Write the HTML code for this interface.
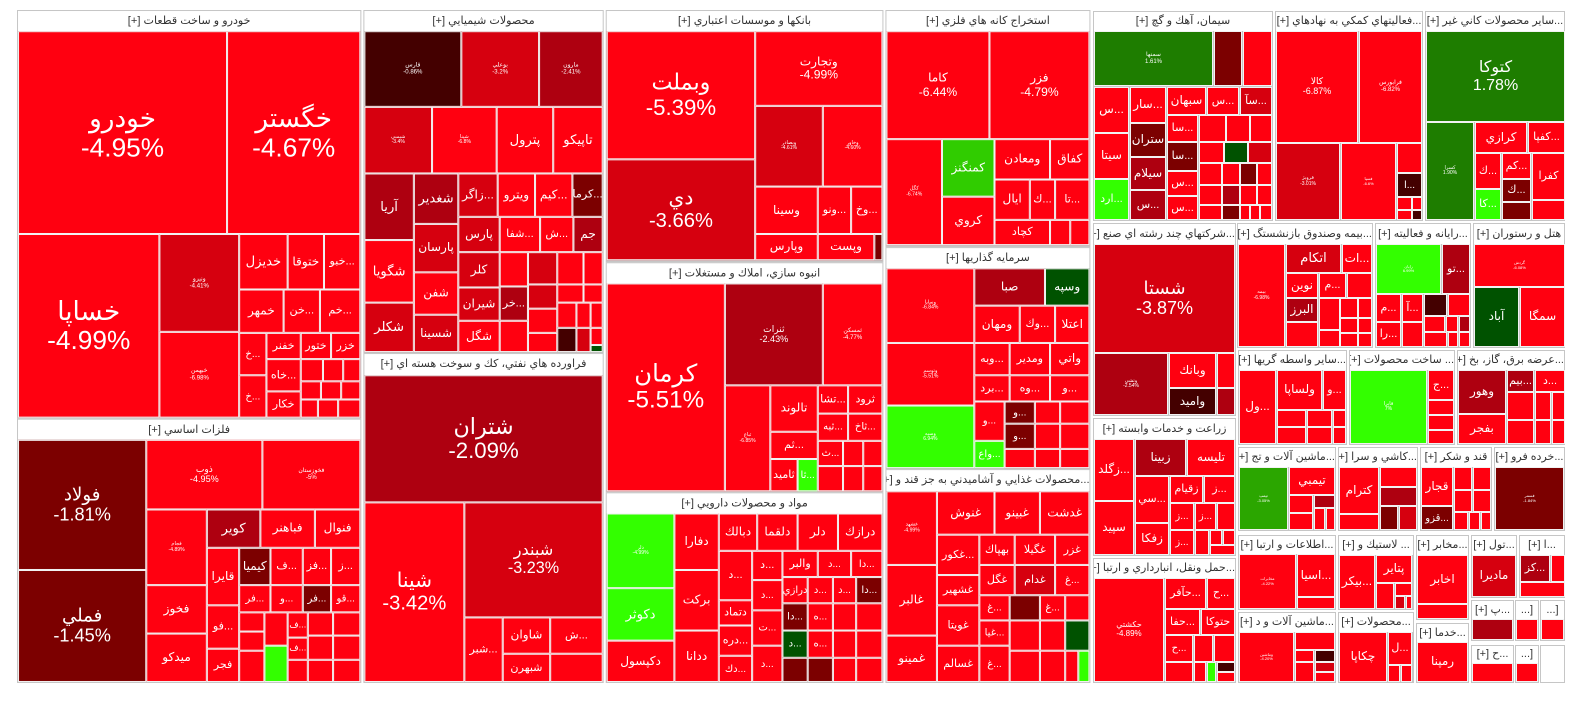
<!DOCTYPE html>
<html><head><meta charset="utf-8">
<style>
html,body{margin:0;padding:0;background:#fff;width:1584px;height:698px;overflow:hidden;font-family:"Liberation Sans","DejaVu Sans",sans-serif}
#main{position:absolute;left:0;top:0;width:1584px;height:698px;transform-origin:16px 10px;transform:scale(1.0098,1.009)}
#right{position:absolute;left:0;top:0;width:1584px;height:698px}
.sec{position:absolute;background:#c6c6c6}
.hdr{position:absolute;background:#fff;color:#333;font-size:11px;line-height:19px;text-align:center;white-space:nowrap;overflow:hidden;direction:rtl}
.cell{position:absolute;box-sizing:border-box;border:1px solid #f2f2f2;color:#fff;display:flex;flex-direction:column;align-items:center;justify-content:center;overflow:hidden;text-align:center;line-height:1.1}
.cell .n{direction:rtl;white-space:nowrap}
.cell .p{direction:ltr;white-space:nowrap}
</style></head><body>
<div id="main"></div>
<div id="right"></div>
<script>
const COLORS={R:'#ff0010',M:'#d6000f',D:'#ae0010',K:'#7c0000',X:'#440000',G:'#1e7d00',L:'#33ff00',N:'#005200',T:'#2ba600',C:'#30cc00'};
const leftSectors=[
{t:'خودرو و ساخت قطعات [+]',b:[17,10,358,415],c:[
[18,31,225,232,'R','خودرو','-4.95%',26],[225,31,357,232,'R','خگستر','-4.67%',26],[18,232,158,414,'R','خساپا','-4.99%',26],
[158,232,237,329,'M','ونيرو','-4.41%',6],[158,329,237,414,'R','خبهمن','-6.98%',6],
[237,232,285,287,'R','خديزل','',13],[285,232,321,287,'R','ختوقا','',12],[321,232,357,287,'R','...خبو','',11],
[237,287,281,330,'R','خمهر','',12],[281,287,317,330,'R','...خن','',11],[317,287,357,330,'R','...خم','',11],
[237,330,264,372,'R','...خ','',10],[237,372,264,414,'R','...خ','',10],[264,330,298,356,'R','خفنر','',11],[298,330,328,356,'R','ختور','',11],[328,330,357,356,'R','خزر','',11],
[264,356,298,388,'R','...خاه','',11],[264,388,298,414,'R','خكار','',11],
[298,356,320,378,'R'],[320,356,340,378,'R'],[340,356,357,378,'R'],[298,378,318,396,'R'],[318,378,338,396,'R'],[338,378,357,396,'R'],[298,396,315,414,'R'],[315,396,335,414,'R'],[335,396,357,414,'R']]},
{t:'فلزات اساسي [+]',b:[17,415,358,677],c:[
[18,436,145,565,'K','فولاد','-1.81%',18],[18,565,145,676,'K','فملي','-1.45%',18],[145,436,260,505,'R','ذوب','-4.95%',9],[260,436,357,505,'R','فخوزستان','-5%',6],
[145,505,205,580,'R','فجام','-4.89%',5],[205,505,258,543,'D','كوير','',13],[258,505,312,543,'R','فباهنر','',12],[312,505,357,543,'R','فنوال','',12],
[145,580,205,628,'R','فخوز','',12],[145,628,205,676,'R','ميدكو','',12],[205,543,237,600,'R','قايرا','',12],[237,543,268,580,'K','كيميا','',12],
[268,543,300,580,'R','...ف','',11],[300,543,328,580,'R','...فز','',11],[328,543,357,580,'R','...ز','',11],[205,600,237,643,'R','...فو','',11],[205,643,237,676,'R','فجر','',11],
[237,580,268,607,'R','...فر','',10],[268,580,300,607,'R','...و','',10],[300,580,328,607,'K','...فر','',10],[328,580,357,607,'R','...قو','',10],
[237,607,262,626,'R'],[237,626,262,645,'R'],[237,645,262,676,'R'],[262,607,285,640,'R'],[262,640,285,676,'L'],
[285,607,305,632,'R','...ف','',9],[285,632,305,654,'R','...ف','',9],[285,654,305,676,'R'],
[305,607,330,630,'R'],[330,607,357,630,'R'],[305,630,330,654,'R'],[330,630,357,654,'R'],[305,654,330,676,'R'],[330,654,357,676,'R']]},
{t:'محصولات شيميايي [+]',b:[360,10,598,350],c:[
[361,31,457,106,'X','فارس','-0.86%',6],[457,31,534,106,'M','بوعلي','-3.2%',6],[534,31,597,106,'D','مارون','-2.41%',6],
[361,106,428,172,'M','شيمبي','-3.4%',5],[428,106,492,172,'R','شپنا','-6.8%',5],[492,106,548,172,'R','پترول','',13],[548,106,597,172,'R','تاپيكو','',13],
[361,172,410,238,'D','آريا','',13],[361,238,410,300,'R','شگويا','',13],[361,300,410,349,'M','شكلر','',13],
[410,172,454,222,'D','شغدير','',13],[410,222,454,270,'M','پارسان','',12],[410,270,454,312,'R','شفن','',12],[410,312,454,349,'M','شسينا','',12],
[454,172,493,215,'M','...زاگر','',12],[493,172,530,215,'R','ويترو','',12],[530,172,567,215,'R','...كيم','',12],[567,172,597,215,'K','...كرما','',11],
[454,215,495,250,'M','پارس','',12],[495,215,535,250,'R','...شفا','',11],[535,215,568,250,'R','...ش','',11],[568,215,597,250,'D','جم','',12],
[454,250,495,285,'M','كلر','',12],[454,285,495,318,'M','شيران','',12],[454,318,495,349,'R','شگل','',12],
[495,250,523,284,'R'],[495,284,523,318,'D','...خر','',11],[495,318,523,349,'R'],
[523,250,552,282,'M'],[523,282,552,306,'M'],[523,306,552,330,'R'],[523,330,552,349,'R'],
[552,250,578,282,'R'],[578,250,597,282,'R'],[552,282,578,300,'R'],[578,282,597,300,'R'],
[552,300,571,325,'R'],[571,300,585,325,'R'],[585,300,597,325,'R'],[552,325,571,349,'X'],[571,325,585,349,'M'],[585,325,597,342,'R'],[585,342,597,349,'N']]},
{t:'فراورده هاي نفتي، كك و سوخت هسته اي [+]',b:[360,350,598,677],c:[
[361,372,597,498,'D','شتران','-2.09%',22],[361,498,460,676,'R','شينا','-3.42%',20],[460,498,597,612,'M','شبندر','-3.23%',16],
[460,612,498,676,'R','...شبر','',11],[498,612,545,648,'R','شاوان','',12],[545,612,597,648,'R','...ش','',11],[498,648,545,676,'R','شبهرن','',11],[545,648,597,676,'R']]},
{t:'بانكها و موسسات اعتباري [+]',b:[600,10,875,260],c:[
[601,31,748,158,'R','وبملت','-5.39%',22],[748,31,874,105,'R','وتجارت','-4.99%',12],[601,158,748,258,'M','دي','-3.66%',20],
[748,105,815,185,'M','وبصادر','-4.61%',5],[815,105,874,185,'R','وخاور','-4.60%',5],
[748,185,810,232,'R','وسينا','',12],[748,232,810,258,'R','وپارس','',12],[810,185,843,232,'R','...ونو','',11],[843,185,874,232,'R','...وخ','',11],[810,232,866,258,'R','وپست','',12],[866,232,874,258,'K']]},
{t:'انبوه سازي، املاك و مستغلات [+]',b:[600,260,875,488],c:[
[601,281,718,487,'R','كرمان','-5.51%',24],[718,281,815,382,'D','ثنرات','-2.43%',9],[815,281,874,382,'R','ثمسكن','-4.77%',6],[718,382,763,487,'R','ثباغ','-6.85%',5],
[763,382,810,428,'R','تالوند','',12],[763,428,810,455,'R','...ثم','',11],[763,455,790,487,'R','ثاميد','',11],[790,455,810,487,'L','...ثا','',10],
[810,382,840,410,'R','...تشا','',11],[840,382,874,410,'R','ثرود','',11],[810,410,840,437,'R','...ثبه','',10],[840,410,874,437,'R','...ثاخ','',10],
[810,437,835,462,'R','...ث','',10],[835,437,855,462,'R'],[855,437,874,462,'R'],[810,462,835,487,'R'],[835,462,855,487,'R'],[855,462,874,487,'R']]},
{t:'مواد و محصولات دارويي [+]',b:[600,488,875,677],c:[
[601,509,668,583,'L','دلر','-4.99%',5],[601,583,668,635,'L','دكوثر','',13],[601,635,668,676,'R','دكپسول','',12],
[668,509,712,565,'R','دفارا','',12],[668,565,712,625,'R','بركت','',12],[668,625,712,676,'R','ددانا','',12],
[712,509,750,546,'R','دبالك','',12],[750,509,790,546,'R','دلقما','',12],[790,509,830,546,'R','دلر','',12],[830,509,874,546,'R','درازك','',12],
[712,546,745,595,'R','...د','',11],[712,595,745,620,'R','دتماد','',11],[712,620,745,650,'R','...دره','',11],[712,650,745,676,'R','...دك','',10],
[745,546,775,575,'R','...د','',11],[775,546,810,572,'R','والبر','',11],[810,546,843,572,'R','...د','',10],[843,546,874,572,'R','...دا','',10],
[745,575,775,605,'R','...د','',10],[775,572,800,598,'R','درازي','',10],[800,572,825,598,'R','...د','',10],[825,572,848,598,'R','...د','',10],[848,572,874,598,'K','...دا','',10],
[745,605,775,640,'R','...ت','',10],[745,640,775,676,'R','...د','',10],[775,598,800,625,'K','...دا','',10],[800,598,825,625,'R','...ه','',10],[825,598,848,625,'R'],[848,598,874,625,'R'],
[775,625,800,652,'N','...د','',10],[800,625,825,652,'R','...ه','',10],[825,625,848,652,'R'],[848,625,874,652,'R'],
[775,652,800,676,'K'],[800,652,825,676,'K'],[825,652,848,676,'R'],[848,652,874,676,'R']]},
{t:'استخراج كانه هاي فلزي [+]',b:[877,10,1080,245],c:[
[878,31,980,138,'R','كاما','-6.44%',12],[980,31,1079,138,'R','فزر','-4.79%',12],[878,138,933,243,'R','كگل','-6.74%',5],
[933,138,985,195,'C','كمنگنز','',12],[933,195,985,243,'R','كروي','',12],[985,138,1040,178,'R','ومعادن','',12],[1040,138,1079,178,'R','كفاق','',12],
[985,178,1020,218,'R','ايال','',12],[1020,178,1045,218,'R','...ك','',11],[1045,178,1079,218,'R','...تا','',11],[985,218,1040,243,'R','كچاد','',11],[1040,218,1060,243,'R'],[1060,218,1079,243,'R']]},
{t:'سرمايه گذاريها [+]',b:[877,245,1080,465],c:[
[878,266,965,340,'R','وساپا','-6.84%',5],[878,340,965,402,'R','وتوسم','-5.51%',5],[878,402,965,464,'L','وسپه','6.94%',5],
[965,266,1035,303,'D','صبا','',12],[1035,266,1079,303,'N','وسپه','',12],[965,303,1010,340,'R','ومهان','',12],[1010,303,1045,340,'R','...وك','',11],[1045,303,1079,340,'R','اعتلا','',12],
[965,340,1000,372,'R','...وبه','',11],[1000,340,1040,372,'R','ومدير','',11],[1040,340,1079,372,'R','واتي','',12],
[965,372,1000,398,'R','...برد','',11],[1000,372,1040,398,'R','...وه','',11],[1040,372,1079,398,'R','...و','',11],
[965,398,995,437,'R','...و','',10],[965,437,995,464,'L','...واع','',10],[995,398,1025,420,'K','...و','',10],[995,420,1025,445,'K','...و','',10],
[1025,398,1050,420,'R'],[1050,398,1079,420,'R'],[1025,420,1050,445,'R'],[1050,420,1079,445,'R'],[995,445,1025,464,'R'],[1025,445,1050,464,'R'],[1050,445,1079,464,'R']]},
{t:'...محصولات غذايي و آشاميدني به جز قند و [+]',b:[877,465,1080,677],c:[
[878,487,928,560,'R','غشهد','-4.99%',5],[878,560,928,630,'R','غالبر','',12],[878,630,928,676,'R','غمينو','',12],
[928,487,985,530,'R','غنوش','',12],[985,487,1030,530,'R','غبينو','',12],[1030,487,1079,530,'R','غدشت','',12],
[928,530,970,570,'R','...غكور','',11],[970,530,1005,560,'R','بهپاك','',11],[1005,530,1045,560,'R','غگيلا','',11],[1045,530,1079,560,'R','غزر','',11],
[928,570,970,600,'R','غشهير','',11],[928,600,970,640,'R','غويتا','',11],[928,640,970,676,'R','غسالم','',11],
[970,560,1005,590,'R','غگل','',11],[1005,560,1045,590,'M','غدام','',11],[1045,560,1079,590,'R','...غ','',10],
[970,590,1000,615,'R','...غ','',10],[970,615,1000,640,'R','...غيا','',10],[970,640,1000,676,'R','...غ','',10],
[1000,590,1030,615,'K'],[1030,590,1055,615,'R','...غ','',10],[1055,590,1079,615,'R'],
[1000,615,1030,645,'R'],[1030,615,1055,645,'R'],[1055,615,1079,645,'N'],
[1000,645,1030,676,'R'],[1030,645,1055,676,'R'],[1055,645,1068,676,'R'],[1068,645,1079,676,'L']]}
];
const rightSectors=[
{t:'سيمان، آهك و گچ [+]',b:[1093,11,1273,221],c:[
[1094,31,1213,86,'G','سمنها','1.61%',6],[1214,31,1242,86,'K'],[1243,31,1272,86,'R'],
[1094,87,1129,133,'R','...س','',12],[1130,87,1166,123,'R','...سار','',12],[1167,87,1206,115,'R','سبهان','',12],[1207,87,1239,115,'R','...س','',11],[1240,87,1272,115,'M','...سآ','',11],
[1094,133,1129,179,'R','سيتا','',12],[1094,179,1129,220,'L','...ارد','',11],[1130,123,1166,157,'K','ستران','',12],[1130,157,1166,190,'D','سيلام','',12],[1130,190,1166,220,'D','...س','',11],
[1167,115,1198,142,'R','...سا','',11],[1167,142,1198,171,'K','...سا','',11],[1167,171,1198,196,'R','...س','',11],[1167,196,1198,220,'R','...س','',11],
[1199,115,1226,142,'R'],[1226,115,1250,142,'R'],[1250,115,1272,142,'R'],[1199,142,1224,163,'R'],[1224,142,1248,163,'N'],[1248,142,1272,163,'M'],
[1199,163,1222,185,'R'],[1222,163,1240,185,'R'],[1240,163,1257,185,'K'],[1257,163,1272,185,'R'],[1199,185,1222,205,'R'],[1222,185,1240,205,'D'],[1240,185,1257,205,'R'],[1257,185,1272,205,'R'],
[1199,205,1222,220,'R'],[1222,205,1240,220,'K'],[1240,205,1250,220,'R'],[1250,205,1260,220,'R'],[1260,205,1272,220,'R']]},
{t:'...فعاليتهاي كمكي به نهادهاي [+]',b:[1275,11,1423,221],c:[
[1276,31,1358,143,'R','كالا','-6.87%',9],[1359,31,1422,143,'R','فرابورس','-6.82%',6],[1276,143,1340,220,'M','فرويژ','-3.01%',5],[1341,143,1396,220,'R','فسپا','-6.6%',4],
[1397,143,1422,173,'R'],[1397,173,1422,197,'X','...ا','',10],[1397,197,1412,210,'R'],[1412,197,1422,210,'R'],[1397,210,1412,220,'R'],[1412,210,1422,220,'X']]},
{t:'...ساير محصولات كاني غير [+]',b:[1425,11,1565,221],c:[
[1426,31,1565,122,'G','كتوكا','1.78%',16],[1426,122,1474,220,'G','كسرا','1.90%',5],[1475,122,1527,153,'R','كرازي','',12],[1528,122,1565,153,'R','...كفپا','',11],
[1475,153,1501,189,'R','...ك','',11],[1502,153,1531,179,'R','...كم','',11],[1532,153,1565,200,'R','كفرا','',11],[1475,189,1501,220,'L','...كا','',11],
[1502,179,1531,202,'K','...ك','',11],[1502,202,1531,220,'K'],[1532,200,1565,220,'R']]},
{t:'...شركتهاي چند رشته اي صنع [+]',b:[1093,223,1236,416],c:[
[1094,244,1235,353,'M','شستا','-3.87%',18],[1094,353,1168,415,'D','وتشي','-2.54%',5],[1169,353,1216,388,'R','وبانك','',12],[1217,353,1235,388,'R'],[1169,388,1216,415,'X','واميد','',12],[1217,388,1235,415,'D']]},
{t:'...بيمه وصندوق بازنشستگ [+]',b:[1237,223,1373,348],c:[
[1238,244,1285,347,'R','بيمه','-6.98%',5],[1286,244,1341,273,'M','اتكام','',13],[1342,244,1372,273,'R','...ات','',12],
[1286,273,1318,298,'R','نوين','',12],[1319,273,1346,298,'R','...م','',11],[1347,273,1372,298,'R'],[1286,298,1318,322,'D','البرز','',12],[1286,322,1318,347,'R'],
[1319,298,1340,330,'R'],[1340,298,1358,318,'R'],[1358,298,1372,318,'R'],[1340,318,1358,333,'R'],[1358,318,1372,333,'R'],[1319,330,1340,347,'R'],[1340,333,1358,347,'R'],[1358,333,1372,347,'R']]},
{t:'...رايانه و فعاليته [+]',b:[1375,223,1471,348],c:[
[1376,244,1441,294,'L','رايان','6.99%',4],[1442,244,1470,294,'D','...تو','',11],[1376,294,1401,322,'R','...م','',11],[1402,294,1423,322,'R','...آ','',11],[1424,294,1447,316,'X'],[1448,294,1470,316,'R'],
[1376,322,1401,347,'R','...را','',11],[1402,322,1423,347,'R'],[1424,316,1445,332,'R'],[1446,316,1458,332,'R'],[1459,316,1470,332,'D'],[1424,332,1447,347,'R'],[1448,332,1458,347,'R'],[1459,332,1470,347,'R']]},
{t:'هتل و رستوران [+]',b:[1473,223,1565,348],c:[
[1474,244,1565,287,'R','گردش','-6.08%',4],[1474,287,1519,347,'N','آباد','',12],[1520,287,1565,347,'R','سمگا','',12]]},
{t:'زراعت و خدمات وابسته [+]',b:[1093,418,1236,556],c:[
[1094,439,1134,501,'R','...زگلد','',12],[1094,501,1134,555,'R','سپيد','',12],[1135,439,1186,476,'D','زبينا','',12],[1187,439,1235,476,'R','تليسه','',12],
[1135,476,1169,523,'R','...سي','',11],[1170,476,1203,503,'R','زقيام','',11],[1204,476,1235,503,'R','...ز','',11],[1170,503,1194,530,'R','...ز','',10],[1195,503,1216,530,'R','...ز','',10],[1217,503,1235,530,'R'],
[1135,523,1169,555,'R','زفكا','',12],[1170,530,1194,555,'R','...ز','',10],[1195,530,1209,555,'R'],[1210,530,1222,545,'R'],[1223,530,1235,545,'R'],[1210,545,1235,555,'R']]},
{t:'...حمل ونقل، انبارداري و ارتبا [+]',b:[1093,558,1236,683],c:[
[1094,578,1164,682,'R','حكشتي','-4.89%',8],[1165,578,1206,609,'R','...حآفر','',11],[1207,578,1235,609,'R','...ح','',11],[1165,609,1200,635,'R','...حفا','',11],[1201,609,1235,635,'R','حتوكا','',11],
[1165,635,1193,662,'R','...ح','',10],[1194,635,1213,662,'R'],[1214,635,1235,662,'R'],[1165,662,1193,682,'R'],[1194,662,1206,682,'R'],[1207,662,1216,682,'L'],[1217,662,1235,672,'X'],[1217,672,1235,682,'R']]},
{t:'...ساير واسطه گريها [+]',b:[1238,350,1347,445],c:[
[1239,370,1276,444,'R','...ول','',12],[1277,370,1322,410,'R','ولساپا','',12],[1323,370,1346,410,'R','...و','',11],
[1277,410,1306,427,'R'],[1307,410,1332,427,'R'],[1333,410,1346,427,'R'],[1277,427,1306,444,'R'],[1307,427,1332,444,'R'],[1333,427,1346,444,'R']]},
{t:'... ساخت محصولات [+]',b:[1349,350,1455,445],c:[
[1350,370,1427,444,'L','فايرا','7%',5],[1428,370,1454,400,'R','...ج','',11],[1428,400,1454,415,'R'],[1428,415,1454,430,'R'],[1428,430,1454,444,'R']]},
{t:'...عرضه برق، گاز، بخ [+]',b:[1457,350,1565,445],c:[
[1458,370,1506,414,'D','وهور','',12],[1458,414,1506,444,'R','بفجر','',12],[1507,370,1534,392,'D','...بيم','',11],[1535,370,1565,392,'R','...د','',11],
[1507,392,1534,420,'R'],[1535,392,1551,420,'R'],[1552,392,1565,420,'R'],[1507,420,1534,444,'R'],[1535,420,1551,444,'R'],[1552,420,1565,444,'R']]},
{t:'...ماشين آلات و تج [+]',b:[1238,447,1336,531],c:[
[1239,467,1288,530,'T','تپمپ','-3.05%',4],[1289,467,1335,495,'R','تيمبي','',12],[1289,495,1313,513,'R'],[1314,495,1335,508,'D'],[1289,513,1313,530,'R'],[1314,508,1325,530,'R'],[1326,508,1335,530,'R']]},
{t:'...كاشي و سرا [+]',b:[1338,447,1418,531],c:[
[1339,467,1379,514,'R','كترام','',12],[1339,514,1379,530,'R'],[1380,467,1417,487,'R'],[1380,487,1417,506,'D'],[1380,506,1398,530,'K'],[1399,506,1417,530,'M']]},
{t:'قند و شكر [+]',b:[1420,447,1492,531],c:[
[1421,467,1453,506,'R','قجار','',12],[1421,506,1453,530,'K','...قزو','',10],[1454,467,1472,490,'R'],[1473,467,1491,490,'R'],[1454,490,1472,512,'R'],[1473,490,1491,512,'R'],[1454,512,1468,530,'R'],[1469,512,1480,530,'R'],[1481,512,1491,530,'R']]},
{t:'...خرده فرو [+]',b:[1494,447,1565,531],c:[[1495,467,1564,530,'K','فسمر','-1.84%',4]]},
{t:'...اطلاعات و ارتبا [+]',b:[1238,535,1336,610],c:[
[1239,554,1296,609,'R','مخابرات','-4.22%',4],[1297,554,1335,597,'R','...اسيا','',12],[1297,597,1335,609,'R']]},
{t:'... لاستيك و [+]',b:[1338,535,1414,610],c:[
[1339,555,1375,609,'R','...بيكر','',12],[1376,555,1412,583,'R','پتاير','',12],[1376,583,1394,609,'R'],[1395,583,1412,596,'R'],[1395,596,1405,609,'M'],[1406,596,1412,609,'R']]},
{t:'...مخابر [+]',b:[1416,535,1469,620],c:[[1417,555,1468,604,'R','اخابر','',12],[1417,604,1468,619,'R']]},
{t:'...خدما [+]',b:[1416,623,1469,683],c:[[1417,642,1468,682,'R','رمپنا','',12]]},
{t:'...تول [+]',b:[1471,535,1517,598],c:[[1472,555,1516,597,'M','ماديرا','',12]]},
{t:'...ا [+]',b:[1519,535,1565,598],c:[[1520,555,1550,582,'D','...كز','',11],[1551,555,1565,582,'R'],[1520,582,1565,597,'R']]},
{t:'...پ [+]',b:[1471,600,1514,641],c:[[1472,619,1513,640,'D']]},
{t:'[...',b:[1515,600,1539,641],c:[[1516,619,1538,640,'R']]},
{t:'[...',b:[1540,600,1565,641],c:[[1541,619,1564,640,'R']]},
{t:'...ح [+]',b:[1471,645,1514,683],c:[[1472,663,1513,682,'R']]},
{t:'[...',b:[1515,645,1539,683],c:[[1516,663,1538,682,'R']]},
{t:'',b:[1540,645,1565,683],c:[]},
{t:'...ماشين آلات و د [+]',b:[1238,612,1336,683],c:[
[1239,632,1294,682,'R','وماشين','-4.20%',4],[1295,632,1335,650,'R'],[1295,650,1314,662,'R'],[1315,650,1335,662,'X'],[1295,662,1314,682,'R'],[1315,662,1335,672,'M'],[1315,672,1335,682,'R']]},
{t:'...محصولات [+]',b:[1338,612,1414,683],c:[
[1339,632,1387,682,'R','چكاپا','',12],[1388,632,1412,665,'R','...ل','',11],[1388,665,1400,682,'R'],[1401,665,1412,682,'R']]}
];
function build(root,sectors){
  sectors.forEach(s=>{
    const [x1,y1,x2,y2]=s.b;
    const sec=document.createElement('div');
    sec.className='sec';
    
    
    sec.style.cssText=`left:${x1}px;top:${y1}px;width:${x2-x1}px;height:${y2-y1}px;${s.t===''?'background:#c6c6c6;box-shadow:inset 0 0 0 2px #c6c6c6;':''}`;
    root.appendChild(sec);
    if(s.t===''){
      const w=document.createElement('div');
      
      
      w.style.cssText=`position:absolute;left:${x1+1}px;top:${y1+1}px;width:${x2-x1-2}px;height:${y2-y1-2}px;background:#fff`;
      root.appendChild(w);
    } else {
      const h=document.createElement('div');
      h.className='hdr';
      
      
      const hh=Math.max(16,(s.c.length?s.c[0][1]:y1+20)-y1-1);
      h.style.cssText=`left:${x1+1}px;top:${y1+1}px;width:${x2-x1-2}px;height:${hh}px;line-height:${hh}px`;
      h.textContent=s.t;
      root.appendChild(h);
    }
    s.c.forEach(c=>{
      const [a,b,cx,d,col,name,pct,fs]=c;
      const el=document.createElement('div');
      el.className='cell';
      
      
      el.style.cssText=`left:${a}px;top:${b}px;width:${cx-a}px;height:${d-b}px;background:${COLORS[col]}`;
      if(name){
        const n=document.createElement('div');n.className='n';n.textContent=name;n.style.fontSize=fs+'px';
        
        
        el.appendChild(n);
        if(pct){const p=document.createElement('div');p.className='p';p.textContent=pct;p.style.fontSize=fs+'px';
          
          
          el.appendChild(p);}
      }
      root.appendChild(el);
    });
  });
}
build(document.getElementById('main'),leftSectors);
build(document.getElementById('right'),rightSectors);
</script>
</body></html>
